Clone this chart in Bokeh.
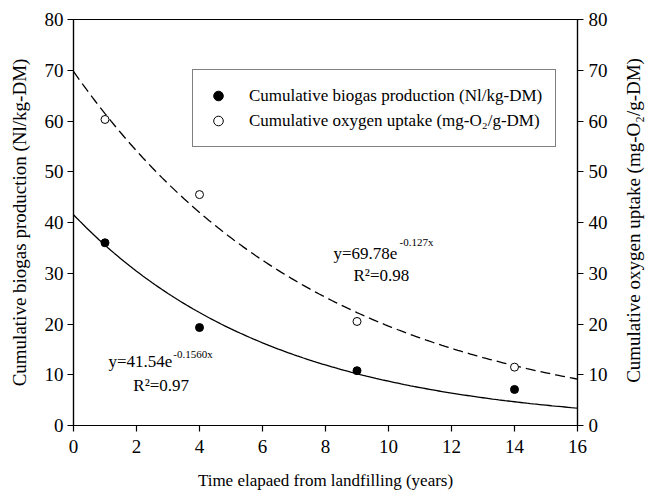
import math
import numpy as np
from bokeh.plotting import figure
from bokeh.layouts import row
from bokeh.models import Range1d, LinearAxis, Legend, LegendItem, Label, FixedTicker, ColumnDataSource
from bokeh.embed import file_html
from bokeh.resources import INLINE

# ---- data ----
time_years = [1, 4, 9, 14]
biogas = [36.0, 19.3, 10.8, 7.1]
oxygen = [60.3, 45.5, 20.5, 11.5]

biogas_a, biogas_k = 41.54, -0.1560
oxygen_a, oxygen_k = 69.78, -0.127

x_ticks = [0, 2, 4, 6, 8, 10, 12, 14, 16]
y_ticks = [0, 10, 20, 30, 40, 50, 60, 70, 80]

FONT = "Liberation Serif"

fit_x = np.linspace(0, 16, 161)
fit_bio = biogas_a * np.exp(biogas_k * fit_x)
fit_oxy = oxygen_a * np.exp(oxygen_k * fit_x)

p = figure(width=614, height=497, x_range=Range1d(0, 16), y_range=Range1d(0, 80),
           output_backend="svg", toolbar_location=None,
           min_border_left=73, min_border_right=37, min_border_top=19, min_border_bottom=72)
p.grid.visible = False
p.outline_line_color = "black"
p.outline_line_width = 1.2
p.background_fill_color = "white"
p.border_fill_color = "white"

p.extra_y_ranges = {"o2": Range1d(0, 80)}
right = LinearAxis(y_range_name="o2")
p.add_layout(right, "right")

def style(ax, ticks):
    ax.ticker = FixedTicker(ticks=ticks)
    ax.minor_tick_line_color = None
    ax.major_tick_in = 0
    ax.major_tick_out = 6
    ax.major_tick_line_color = "black"
    ax.major_tick_line_width = 1.2
    ax.axis_line_color = "black"
    ax.axis_line_width = 1.2
    ax.major_label_text_font = FONT
    ax.major_label_text_font_size = "19px"
    ax.major_label_text_color = "black"
    ax.axis_label_text_font = FONT
    ax.axis_label_text_font_style = "normal"
    ax.axis_label_text_font_size = "19px"
    ax.axis_label_text_color = "black"

style(p.xaxis[0], x_ticks)
style(p.yaxis[0], y_ticks)
style(right, y_ticks)
p.xaxis[0].axis_label = "Time elapaed from landfilling (years)"
p.xaxis[0].axis_label_text_font_size = "17px"
p.xaxis[0].major_label_standoff = 8
p.xaxis[0].axis_label_standoff = 15
p.yaxis[0].axis_label = "Cumulative biogas production (Nl/kg-DM)"
p.yaxis[0].major_label_standoff = 4
p.yaxis[0].axis_label_standoff = 12
right.major_label_standoff = 5

p.line(fit_x, fit_bio, line_color="black", line_width=1.3)
p.line(fit_x, fit_oxy, line_color="black", line_width=1.3, line_dash="10 5")

src = ColumnDataSource(dict(t=time_years, b=biogas, o=oxygen))
r_bio = p.scatter("t", "b", source=src, size=8, fill_color="black", line_color="black")
r_oxy = p.scatter("t", "o", source=src, size=8, fill_color="white", line_color="black", line_width=1)

legend = Legend(items=[LegendItem(label="Cumulative biogas production (Nl/kg-DM)", renderers=[r_bio]),
                       LegendItem(label="Cumulative oxygen uptake (mg-O\u2082/g-DM)", renderers=[r_oxy])],
                location=(119, 278), padding=13, spacing=0, label_height=25, glyph_width=24,
                glyph_height=25, label_standoff=19, margin=0,
                label_text_font=FONT, label_text_font_size="17px", label_text_color="black",
                border_line_color="black", border_line_width=1.2, background_fill_alpha=1.0)
p.add_layout(legend)

def lab(x, y, t, size):
    p.add_layout(Label(x=x, y=y, text=t, text_font=FONT, text_font_size=size,
                       text_color="black", text_baseline="middle", text_align="left"))

lab(1.11, 12.6, "y=41.54e", "17px")
lab(3.17, 14.0, "-0.1560x", "11px")
lab(1.90, 7.9, "R\u00b2=0.97", "17px")
lab(8.25, 33.9, "y=69.78e", "17px")
lab(10.35, 36.1, "-0.127x", "11px")
lab(8.89, 29.6, "R\u00b2=0.98", "17px")

# narrow strip on the right carrying the right-hand axis title (reads bottom-to-top)
p2 = figure(width=35, height=497, x_range=Range1d(0, 1), y_range=Range1d(0, 80),
            output_backend="svg", toolbar_location=None,
            x_axis_location=None, y_axis_location=None,
            min_border_left=0, min_border_right=0, min_border_top=19, min_border_bottom=72)
p2.grid.visible = False
p2.outline_line_color = None
p2.background_fill_color = "white"
p2.border_fill_color = "white"
p2.add_layout(Label(x=0.54, y=40.4, text="Cumulative oxygen uptake (mg-O\u2082/g-DM)",
                    angle=math.pi / 2, text_font=FONT, text_font_size="19px", text_color="black",
                    text_align="center", text_baseline="middle"))

layout = row(p, p2, spacing=0)
open("out.html", "w").write(file_html(layout, INLINE))
